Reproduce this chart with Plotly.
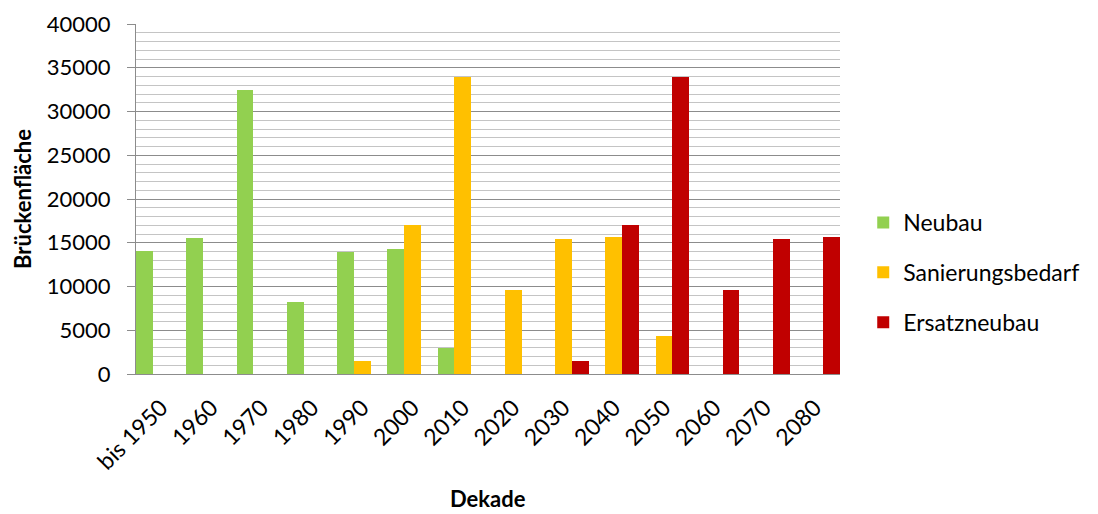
import plotly.graph_objects as go

categories = ["bis 1950", "1960", "1970", "1980", "1990", "2000", "2010",
              "2020", "2030", "2040", "2050", "2060", "2070", "2080"]
neubau = [14100, 15500, 32500, 8200, 14000, 14300, 3000,
          None, None, None, None, None, None, None]
sanierung = [None, None, None, None, 1450, 17000, 34000,
             9600, 15400, 15700, 4400, None, None, None]
ersatz = [None, None, None, None, None, None, None,
          None, 1450, 17000, 33900, 9600, 15400, 15700]

series = [("Neubau", neubau, "#92D050"),
          ("Sanierungsbedarf", sanierung, "#FFC000"),
          ("Ersatzneubau", ersatz, "#C00000")]

FONT = "Lato, Carlito, Calibri, sans-serif"

fig = go.Figure()
for i, (name, vals, col) in enumerate(series):
    fig.add_trace(go.Bar(x=categories, y=vals, name=name, marker_color=col,
                         marker_line_width=0, legendgroup=f"g{i}"))

fig.update_layout(
    width=1098, height=514,
    margin=dict(l=136, r=258, t=24, b=140),
    paper_bgcolor="white", plot_bgcolor="white",
    barmode="group", bargap=0, bargroupgap=0,
    font=dict(family=FONT, color="black"),
    legend=dict(x=1.033, y=0.29, xanchor="left", yanchor="middle",
                font=dict(size=23, family=FONT), traceorder="grouped",
                tracegroupgap=17),
    xaxis=dict(
        showline=True, linecolor="#8c8c8c", linewidth=1,
        tickangle=-45, tickfont=dict(size=23, family=FONT),
        ticks="", ticklabelstandoff=10, automargin=False,
    ),
    yaxis=dict(
        range=[0, 40000], dtick=5000, tickformat="d",
        showline=True, linecolor="#8c8c8c", linewidth=1,
        ticks="outside", ticklen=8, tickcolor="#8c8c8c",
        gridcolor="#8c8c8c", gridwidth=1,
        zeroline=False, automargin=False,
        minor=dict(dtick=1000, showgrid=True, gridcolor="#c4c4c4", gridwidth=1),
        tickfont=dict(size=22, family=FONT), ticklabelstandoff=12,
    ),
    annotations=[
        dict(text="<b>Dekade</b>", xref="paper", yref="paper",
             x=0.5, y=-(498 - 374) / 350, xanchor="center", yanchor="middle",
             showarrow=False, font=dict(size=22, family=FONT)),
        dict(text="<b>Brückenfläche</b>", xref="paper", yref="paper",
             x=-(136 - 22) / 704, y=0.5, xanchor="center", yanchor="middle",
             textangle=-90, showarrow=False, font=dict(size=22, family=FONT)),
    ],
)

fig.write_html("out.html")
